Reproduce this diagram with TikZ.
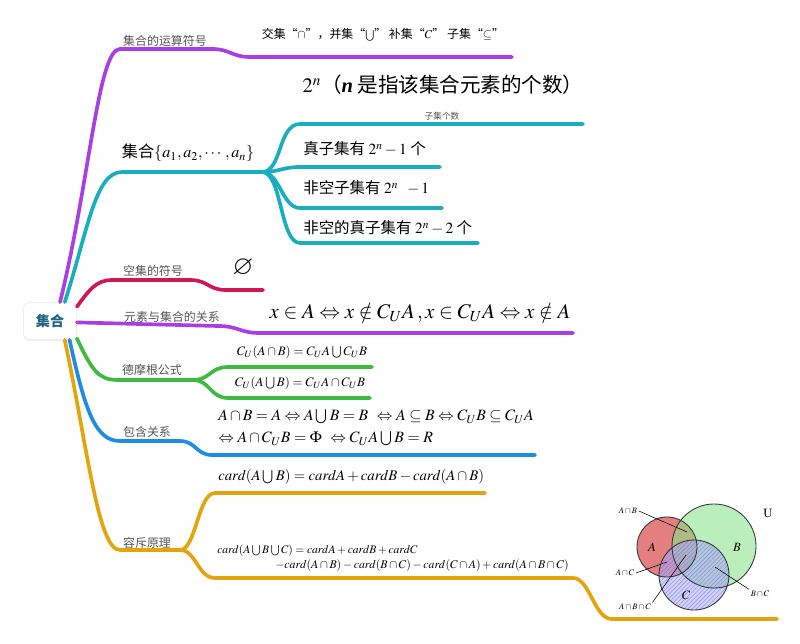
\documentclass[tikz,border=0pt]{standalone}
\usepackage{mathptmx}
\usepackage{amsmath,amssymb}
\usepackage[no-math]{fontspec}
\newfontfamily\cjk{Noto Sans CJK SC}
\usetikzlibrary{patterns,shadows}
\definecolor{brPurple}{RGB}{168,62,228}
\definecolor{brTeal}{RGB}{24,174,192}
\definecolor{brRed}{RGB}{206,24,84}
\definecolor{brGreen}{RGB}{62,186,64}
\definecolor{brBlue}{RGB}{28,140,228}
\definecolor{brOrange}{RGB}{228,164,14}
\definecolor{rootText}{RGB}{30,100,130}
\definecolor{lblGray}{RGB}{85,85,85}
\definecolor{vennRed}{RGB}{222,96,96}
\definecolor{vennGreen}{RGB}{140,228,140}
\definecolor{vennBlue}{RGB}{176,176,238}
\newcommand{\Un}{\mathbin{\bigcup}}
\begin{document}
\begin{tikzpicture}[x=0.025cm, y=-0.025cm,
	branch/.style={line width=2.6pt, line cap=round},
	lbl/.style={font=\cjk\fontsize{8.5}{10}\selectfont, text=lblGray, inner sep=0pt},
	txt/.style={font=\cjk\fontsize{11}{13}\selectfont, inner sep=0pt, anchor=west},
	eq/.style={font=\fontsize{11}{12}\selectfont, inner sep=0pt, anchor=west},
	rootbox/.style={draw=black!8, fill=white, rounded corners=5pt, minimum width=1.33cm, minimum height=0.93cm,
		font=\cjk\bfseries\fontsize{10}{12}\selectfont, text=rootText,
		drop shadow={opacity=.12, shadow xshift=0pt, shadow yshift=-1pt}},
	venn/.style={draw=black!80, line width=0.6pt},
	small/.style={font=\fontsize{6}{7}\selectfont, inner sep=1pt}]
	\fill[white] (0,0) rectangle (800,643);
	\useasboundingbox (0,0) rectangle (800,643);

	\node[rootbox] (root) at (50,321) {集合};

	% 运算符号
	\coordinate (opS) at (120,49);
	\coordinate (opE) at (512,57);
	\draw[branch, brPurple] (root.62) .. controls (90,180) and (98,49) .. (opS) -- (212,49) .. controls (230,49) and (232,57) .. (250,57) -- (opE);
	\node[lbl] (opLbl) at (165,41) {集合的运算符号};
	\node[font=\cjk\fontsize{8.5}{10}\selectfont, inner sep=0pt] (opTxt) at (383,35) {交集“$\cap$”，并集“$\bigcup$” 补集“$C$” 子集“$\subseteq$”};

	% 子集个数
	\coordinate (setS) at (122,172);
	\coordinate (setF) at (262,172);
	\draw[branch, brTeal] (root.52) .. controls (88,230) and (95,172) .. (setS) -- (setF);
	\node[font=\cjk\fontsize{11.5}{13}\selectfont, inner sep=0pt] (setLbl) at (188,153) {集合$\{a_1,a_2,\cdots,a_n\}$};
	\coordinate (subE1) at (583,124);
	\coordinate (subE2) at (440,167);
	\coordinate (subE3) at (442,208);
	\coordinate (subE4) at (478,243);
	\draw[branch, brTeal] (setF) .. controls (282,172) and (278,124) .. (300,124) -- (subE1);
	\draw[branch, brTeal] (setF) .. controls (280,172) and (282,167) .. (300,167) -- (subE2);
	\draw[branch, brTeal] (setF) .. controls (280,172) and (282,208) .. (300,208) -- (subE3);
	\draw[branch, brTeal] (setF) .. controls (282,172) and (280,243) .. (300,243) -- (subE4);
	\node[font=\cjk\fontsize{14.6}{16}\selectfont, inner sep=0pt] (powTxt) at (443,85) {$2^n$（{\fontspec{Liberation Serif}\bfseries\itshape n} 是指该集合元素的个数）};
	\node[lbl, font=\cjk\fontsize{6.2}{7}\selectfont] (cntLbl) at (442,116) {子集个数};
	\node[txt] (sub1) at (303,149) {真子集有 $2^n-1$ 个};
	\node[txt] (sub2) at (303,188) {非空子集有 $2^n\ \ -1$};
	\node[txt] (sub3) at (303,228) {非空的真子集有 $2^n-2$ 个};

	% 空集
	\coordinate (emS) at (112,280);
	\coordinate (emE) at (263,290);
	\draw[branch, brRed] (root.28) .. controls (88,292) and (95,280) .. (emS) -- (190,280) .. controls (208,280) and (208,290) .. (226,290) -- (emE);
	\node[lbl] (emLbl) at (153,271) {空集的符号};
	\node[font=\fontsize{19}{20}\selectfont, inner sep=0pt] (emSym) at (243,268) {$\varnothing$};

	% 元素与集合
	\coordinate (elE) at (573,333);
	\draw[branch, brPurple] (root.-3) -- (218,326) .. controls (238,326) and (240,333) .. (260,333) -- (elE);
	\node[lbl] (elLbl) at (172,317) {元素与集合的关系};
	\node[font=\fontsize{14.8}{16}\selectfont, inner sep=0pt] (elTxt) at (420,313) {$x\in A\Leftrightarrow x\notin C_U A\,, x\in C_U A\Leftrightarrow x\notin A$};

	% 德摩根
	\coordinate (dmS) at (118,380);
	\coordinate (dmF) at (193,380);
	\coordinate (dmE1) at (372,367);
	\coordinate (dmE2) at (370,398);
	\draw[branch, brGreen] (root.-33) .. controls (92,370) and (98,380) .. (dmS) -- (dmF);
	\draw[branch, brGreen] (dmF) .. controls (210,380) and (210,367) .. (228,367) -- (dmE1);
	\draw[branch, brGreen] (dmF) .. controls (210,380) and (210,398) .. (228,398) -- (dmE2);
	\node[lbl] (dmLbl) at (152,370) {德摩根公式};
	\node[font=\fontsize{9.2}{10}\selectfont, inner sep=0pt] (dm1) at (302,352) {$C_U(A\cap B)=C_U A\Un C_U B$};
	\node[font=\fontsize{9.2}{10}\selectfont, inner sep=0pt] (dm2) at (300,383) {$C_U(A\Un B)=C_U A\cap C_U B$};

	% 包含关系
	\coordinate (icS) at (120,441);
	\coordinate (icE) at (535,455);
	\draw[branch, brBlue] (root.-44) .. controls (85,410) and (95,441) .. (icS) -- (180,441) .. controls (196,441) and (196,455) .. (212,455) -- (icE);
	\node[lbl] (icLbl) at (147,432) {包含关系};
	\node[eq, font=\fontsize{11.2}{12}\selectfont] (ic1) at (218,417) {$A\cap B=A\Leftrightarrow A\Un B=B\ \Leftrightarrow A\subseteq B\Leftrightarrow C_U B\subseteq C_U A$};
	\node[eq, font=\fontsize{11.2}{12}\selectfont] (ic2) at (218,439) {$\Leftrightarrow A\cap C_U B=\Phi\ \Leftrightarrow C_U A\Un B=R$};

	% 容斥原理
	\coordinate (ieS) at (120,550);
	\coordinate (ieF) at (180,550);
	\coordinate (ieE1) at (485,493);
	\coordinate (ieE2) at (777,619);
	\draw[branch, brOrange] (root.-52) .. controls (88,450) and (98,550) .. (ieS) -- (ieF);
	\draw[branch, brOrange] (ieF) .. controls (196,550) and (198,493) .. (215,493) -- (ieE1);
	\draw[branch, brOrange] (ieF) .. controls (196,550) and (198,578) .. (215,578) -- (573,578) .. controls (590,578) and (594,619) .. (612,619) -- (ieE2);
	\node[lbl] (ieLbl) at (147,543) {容斥原理};
	\node[eq, font=\fontsize{10.5}{12}\selectfont] (ie1) at (218,477) {$card(A\Un B)=cardA+cardB-card(A\cap B)$};
	\node[eq, font=\fontsize{8.2}{9}\selectfont] (ie2) at (217,551) {$card(A\Un B\Un C)=cardA+cardB+cardC$};
	\node[eq, font=\fontsize{8.4}{9}\selectfont] (ie3) at (275,566) {$-card(A\cap B)-card(B\cap C)-card(C\cap A)+card(A\cap B\cap C)$};

	% Venn
	\coordinate (vA) at (667,547);
	\coordinate (vB) at (714,546);
	\coordinate (vC) at (694,575);
	\fill[vennRed, opacity=.8] (vA) circle (0.75cm);
	\fill[vennGreen, opacity=.6] (vB) circle (1.05cm);
	\fill[vennBlue, opacity=.55] (vC) circle (0.875cm);
	\fill[pattern=north east lines, pattern color=blue!60!white, opacity=.55] (vC) circle (0.875cm);
	\draw[venn] (vA) circle (0.75cm) (vB) circle (1.05cm) (vC) circle (0.875cm);
	\node[font=\fontsize{9}{10}\selectfont] (tA) at (652,547) {$A$};
	\node[font=\fontsize{9}{10}\selectfont] (tB) at (737,547) {$B$};
	\node[font=\fontsize{9}{10}\selectfont] (tC) at (686,595) {$C$};
	\node[font=\fontsize{9}{10}\selectfont] (tU) at (768,513) {$\mathrm{U}$};
	\node[small] (lAB) at (628,511) {$A\cap B$};
	\node[small] (lAC) at (625,573) {$A\cap C$};
	\node[small] (lABC) at (635,607) {$A\cap B\cap C$};
	\node[small] (lBC) at (760,594) {$B\cap C$};
	\coordinate (pAB) at (687,532);
	\coordinate (pAC) at (667,562);
	\coordinate (pABC) at (686,555);
	\coordinate (pBC) at (715,567);
	\draw[thin] (lAB.east) -- (pAB);
	\draw[thin] (lAC.east) -- (pAC);
	\draw[thin] (lABC.north east) -- (pABC);
	\draw[thin] (lBC.north west) -- (pBC);
\end{tikzpicture}
\end{document}
